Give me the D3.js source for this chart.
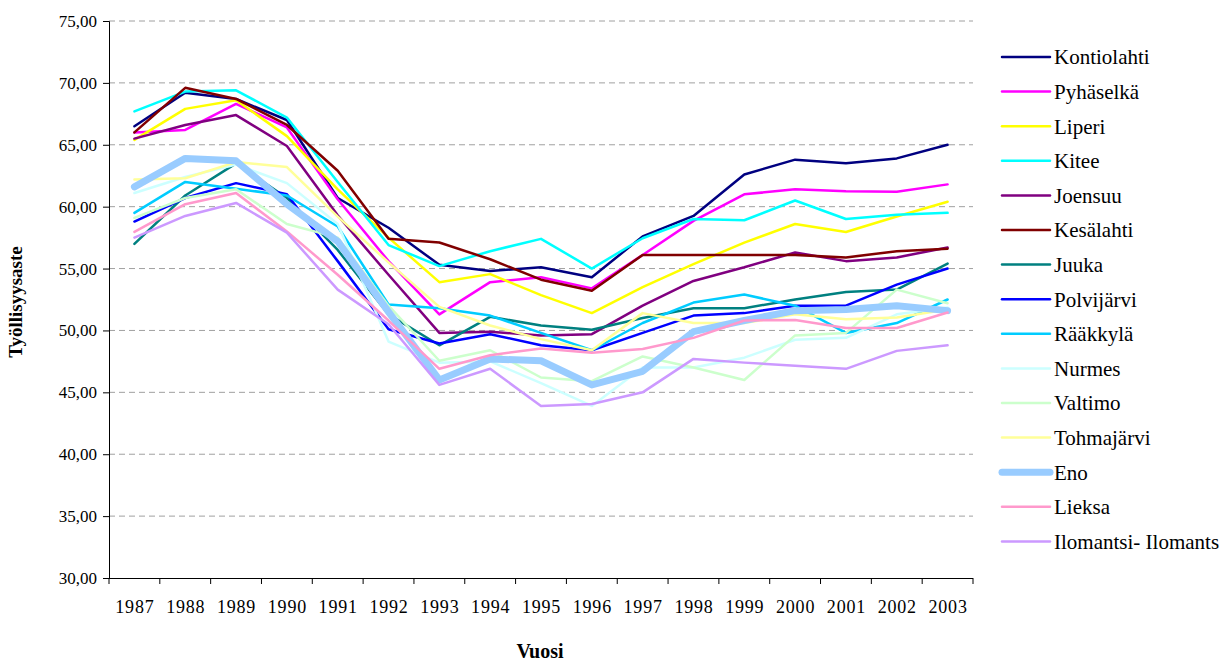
<!DOCTYPE html>
<html>
<head>
<meta charset="utf-8">
<script src="https://cdnjs.cloudflare.com/ajax/libs/d3/7.8.5/d3.min.js"></script>
<style>
  body { margin: 0; background: #fff; }
</style>
</head>
<body>
<div class="container"></div>
<script>
const WIDTH = 1231;
const HEIGHT = 662;
const LEFT = 109, RIGHT = 973, TOP = 21, BOTTOM = 578;
const FONT = '"Liberation Serif", "Times New Roman", serif';

// data
var years = ['1987','1988','1989','1990','1991','1992','1993','1994','1995','1996','1997','1998','1999','2000','2001','2002','2003'];
var yTicks = [30,35,40,45,50,55,60,65,70,75];

var kontiolahti = [66.5,69.2,68.7,67.0,60.7,58.3,55.3,54.8,55.1,54.3,57.6,59.25,62.6,63.8,63.5,63.9,65.0];
var pyhaselka   = [66.0,66.2,68.3,66.4,60.6,55.6,51.3,53.9,54.3,53.4,56.1,58.85,61.0,61.4,61.25,61.2,61.8];
var liperi      = [65.4,67.9,68.6,65.7,61.4,57.5,53.9,54.55,52.85,51.4,53.5,55.35,57.1,58.6,57.95,59.2,60.4];
var kitee       = [67.7,69.3,69.4,67.2,62.0,56.9,55.2,56.4,57.4,55.0,57.45,59.0,58.9,60.5,59.0,59.35,59.5];
var joensuu     = [65.5,66.6,67.4,64.9,59.3,54.5,49.8,49.9,49.6,49.7,52.0,54.0,55.1,56.3,55.6,55.9,56.7];
var kesalahti   = [66.0,69.6,68.7,66.6,62.9,57.4,57.1,55.75,54.1,53.2,56.1,56.1,56.1,56.1,55.9,56.4,56.6];
var juuka       = [57.0,60.9,63.5,60.7,56.5,51.3,48.8,51.1,50.4,50.05,51.0,51.8,51.8,52.5,53.1,53.3,55.4];
var polvijarvi  = [58.8,60.7,61.9,61.0,55.6,50.1,48.95,49.7,48.8,48.4,49.8,51.2,51.4,52.0,52.0,53.7,55.0];
var raakkyla    = [59.5,62.0,61.45,60.9,58.4,52.1,51.8,51.2,49.8,48.4,50.6,52.25,52.9,52.0,49.8,50.6,52.5];
var nurmes      = [61.1,62.4,63.4,61.9,58.6,49.1,47.4,47.5,45.75,43.9,47.0,47.0,47.8,49.25,49.4,51.3,51.85];
var valtimo     = [59.1,60.7,61.4,58.6,57.5,52.0,47.55,48.4,46.2,45.9,47.9,47.0,46.0,49.6,49.8,53.3,52.2];
var tohmajarvi  = [62.2,62.3,63.6,63.2,59.2,55.5,51.9,50.4,49.3,48.4,51.4,50.6,50.6,51.3,50.9,51.05,51.7];
var eno         = [61.6,63.9,63.7,60.2,57.2,51.5,46.0,47.7,47.55,45.6,46.7,49.9,50.8,51.6,51.7,52.0,51.6];
var lieksa      = [57.96,60.2,61.1,58.0,54.5,50.8,46.9,48.0,48.55,48.2,48.5,49.4,50.8,50.85,50.2,50.2,51.45];
var ilomantsi   = [57.5,59.25,60.3,57.9,53.3,50.5,45.6,46.9,43.9,44.05,45.0,47.7,47.4,47.15,46.9,48.35,48.8];

var names = ['Kontiolahti','Pyhäselkä','Liperi','Kitee','Joensuu','Kesälahti','Juuka','Polvijärvi','Rääkkylä','Nurmes','Valtimo','Tohmajärvi','Eno','Lieksa','Ilomantsi- Ilomants'];
var values = [kontiolahti,pyhaselka,liperi,kitee,joensuu,kesalahti,juuka,polvijarvi,raakkyla,nurmes,valtimo,tohmajarvi,eno,lieksa,ilomantsi];

// styles
var colors = ['#000080','#FF00FF','#FFFF00','#00FFFF','#800080','#800000','#008080','#0000FF','#00CCFF','#CCFFFF','#CCFFCC','#FFFF99','#99CCFF','#FF99CC','#CC99FF'];
var widths = [2.5,2.5,2.5,2.5,2.5,2.5,2.5,2.5,2.5,2.5,2.5,2.5,7,2.5,2.5];

var svg = d3.select('.container').append('svg')
  .attr('width', WIDTH)
  .attr('height', HEIGHT)
  .attr('font-family', FONT);

var xScale = d3.scalePoint().domain(years).range([LEFT, RIGHT]).padding(0.5);
var yScale = d3.scaleLinear().domain([30, 75]).range([BOTTOM, TOP]);

// gridlines
svg.append('g').selectAll('line')
  .data(yTicks.filter(function(d){ return d > 30; }))
  .enter().append('line')
  .attr('x1', LEFT).attr('x2', RIGHT)
  .attr('y1', function(d){ return yScale(d); })
  .attr('y2', function(d){ return yScale(d); })
  .attr('stroke', '#a0a0a0')
  .attr('stroke-width', 1)
  .attr('stroke-dasharray', '6,4');

// y axis
var yAxis = d3.axisLeft(yScale)
  .tickValues(yTicks)
  .tickSize(6)
  .tickPadding(6)
  .tickFormat(function(d){ return d.toFixed(2).replace('.', ','); });

var gy = svg.append('g')
  .attr('transform', 'translate(' + LEFT + ',0)')
  .call(yAxis)
  .attr('font-family', FONT)
  .attr('font-size', 17);
gy.select('.domain').attr('stroke', '#000');
gy.selectAll('.tick line').attr('stroke', '#000');
gy.selectAll('text').attr('fill', '#000');

// x axis
var xAxis = d3.axisBottom(xScale).tickSize(0).tickPadding(22);
var gx = svg.append('g')
  .attr('transform', 'translate(0,' + BOTTOM + ')')
  .call(xAxis)
  .attr('font-family', FONT)
  .attr('font-size', 18);
gx.select('.domain').attr('d', 'M' + LEFT + ',0.5H' + RIGHT).attr('stroke', '#000');
gx.selectAll('text').attr('fill', '#000').attr('letter-spacing', 0.8);

// category boundary ticks
var step = xScale.step();
gx.append('g').selectAll('line')
  .data(years.concat(['end']))
  .enter().append('line')
  .attr('x1', function(d, i){ return LEFT + i * step; })
  .attr('x2', function(d, i){ return LEFT + i * step; })
  .attr('y1', 0).attr('y2', 6)
  .attr('stroke', '#000');

// lines
var line = d3.line()
  .x(function(d, i){ return xScale(years[i]); })
  .y(function(d){ return yScale(d); });

svg.append('g').selectAll('path')
  .data(values)
  .enter().append('path')
  .attr('d', function(d){ return line(d); })
  .attr('fill', 'none')
  .attr('stroke', function(d, i){ return colors[i]; })
  .attr('stroke-width', function(d, i){ return widths[i]; })
  .attr('stroke-linejoin', 'round')
  .attr('stroke-linecap', 'round');

// legend
var legend = svg.append('g').attr('transform', 'translate(1000,57)');
var item = legend.selectAll('g')
  .data(names)
  .enter().append('g')
  .attr('transform', function(d, i){ return 'translate(0,' + (i * 34.6) + ')'; });
item.append('line')
  .attr('x1', 2).attr('x2', 50)
  .attr('stroke', function(d, i){ return colors[i]; })
  .attr('stroke-width', function(d, i){ return i === 12 ? 7 : 2.5; })
  .attr('stroke-linecap', 'round');
item.append('text')
  .attr('x', 54)
  .attr('dy', '0.35em')
  .attr('font-size', 21)
  .attr('fill', '#000')
  .text(function(d){ return d; });

// axis titles
svg.append('text')
  .attr('transform', 'translate(22,302) rotate(-90)')
  .attr('text-anchor', 'middle')
  .attr('font-size', 19)
  .attr('font-weight', 'bold')
  .text('Työllisyysaste');

svg.append('text')
  .attr('x', 540).attr('y', 658)
  .attr('text-anchor', 'middle')
  .attr('font-size', 20)
  .attr('font-weight', 'bold')
  .text('Vuosi');
</script>
</body>
</html>
